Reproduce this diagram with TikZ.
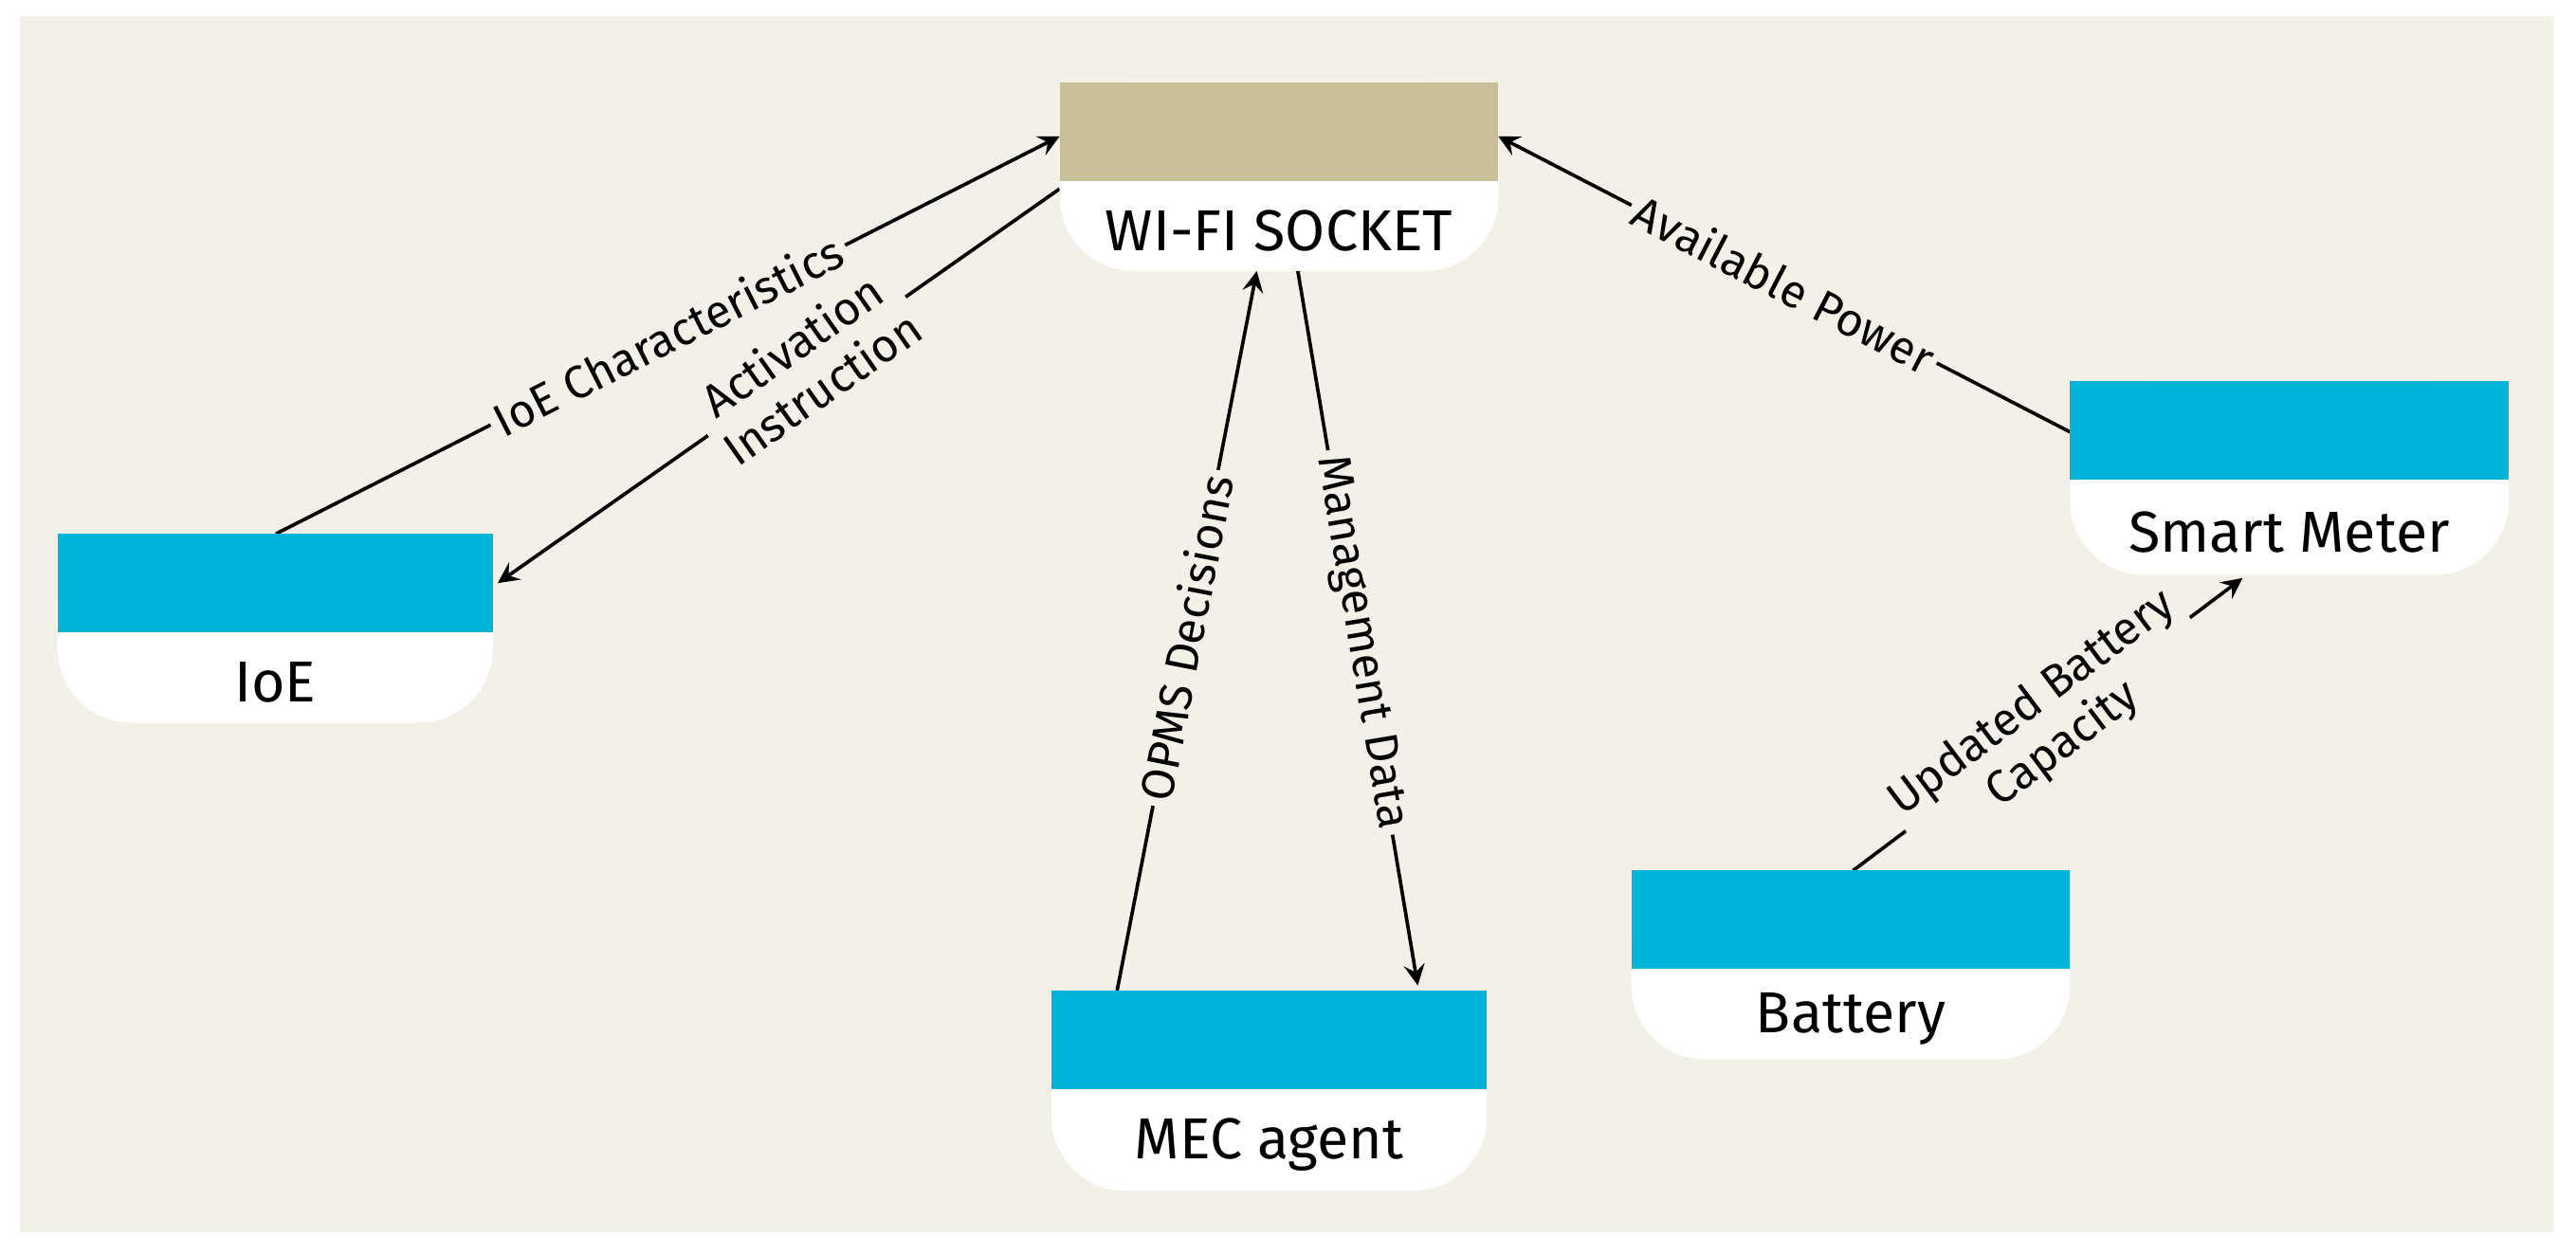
\documentclass[tikz,border=0pt]{standalone}
\usepackage{fontspec}
\setmainfont{Fira Sans}
\definecolor{bg}{HTML}{F2F0E7}
\definecolor{cy}{HTML}{00B4D8}
\definecolor{tan}{HTML}{C8BE98}
\begin{document}
\begin{tikzpicture}[x=0.01cm,y=-0.01cm,
  lab/.style={sloped,fill=bg,inner sep=1pt,font=\fontsize{8}{9}\selectfont,align=center},
  arr/.style={-stealth,line width=0.6pt},
  ttl/.style={font=\fontsize{10}{12}\selectfont}]
\useasboundingbox (0,0) rectangle (1568,764);
\fill[white] (0,0) rectangle (1568,764);
\fill[bg] (12,10) rectangle (1555,750);
\newcommand\blk[7]{% name x1 x2 ytop ymid ybot color
  \fill[white,rounded corners=0.45cm] (#2,#4) rectangle (#3,#6);
  \fill[#7] (#2,#4) rectangle (#3,#5);
  \node[ttl,anchor=center] at ({(#2+#3)/2},{(#5+#6)/2+3}) {\csname lbl#1\endcsname};}
\newcommand\blkname[5]{\node[minimum width={(#3-#2)*0.01cm},minimum height={(#5-#4)*0.01cm},inner sep=0] (#1) at ({(#2+#3)/2},{(#4+#5)/2}) {};}
\expandafter\def\csname lblsock\endcsname{WI-FI SOCKET}
\expandafter\def\csname lblioe\endcsname{IoE}
\expandafter\def\csname lblmec\endcsname{MEC agent}
\expandafter\def\csname lblbat\endcsname{Battery}
\expandafter\def\csname lblsm\endcsname{Smart Meter}
\blkname{sock}{645}{912}{50}{165}
\blkname{ioe}{35}{300}{325}{440}
\blkname{mec}{640}{905}{603}{725}
\blkname{bat}{993}{1260}{530}{645}
\blkname{sm}{1260}{1527}{232}{350}
\coordinate (a1) at (168,325); \coordinate (a2) at (645,83);
\coordinate (b1) at (645,115); \coordinate (b2) at (303,355);
\coordinate (c1) at (680,603); \coordinate (c2) at (765,165);
\coordinate (d1) at (790,165); \coordinate (d2) at (863,600);
\coordinate (e1) at (1260,263); \coordinate (e2) at (912,83);
\coordinate (f1) at (1128,530); \coordinate (f2) at (1365,352);
\draw[arr] (a1) -- node[lab,pos=0.5]{IoE Characteristics} (a2);
\draw[arr] (b1) -- node[lab,pos=0.45]{Activation\\Instruction} (b2);
\draw[arr] (c1) -- node[lab,pos=0.49]{OPMS Decisions} (c2);
\draw[arr] (d1) -- node[lab,pos=0.52]{Management Data} (d2);
\draw[arr] (e1) -- node[lab,pos=0.5]{Available Power} (e2);
\draw[arr] (f1) -- node[lab,pos=0.5]{Updated Battery\\Capacity} (f2);
\blk{sock}{645}{912}{50}{110}{165}{tan}
\blk{ioe}{35}{300}{325}{385}{440}{cy}
\blk{mec}{640}{905}{603}{663}{725}{cy}
\blk{bat}{993}{1260}{530}{590}{645}{cy}
\blk{sm}{1260}{1527}{232}{292}{350}{cy}
\end{tikzpicture}
\end{document}
